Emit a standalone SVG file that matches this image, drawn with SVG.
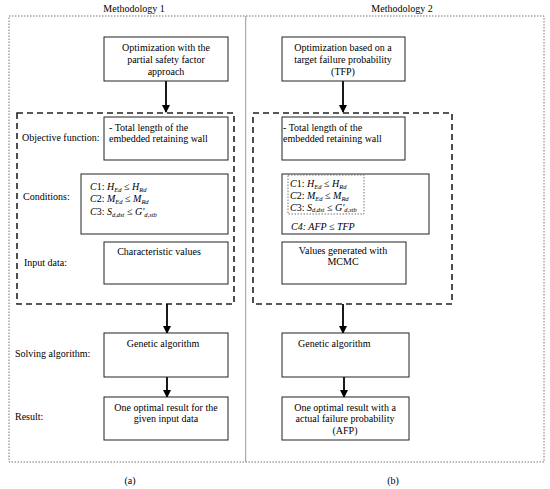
<svg xmlns="http://www.w3.org/2000/svg" width="550" height="489" viewBox="0 0 550 489">
<defs>
<marker id="ah" markerWidth="8" markerHeight="8" refX="7" refY="4" orient="auto" markerUnits="userSpaceOnUse">
<path d="M0,0 L8,4 L0,8 Z" fill="#000"/>
</marker>
<marker id="ahs" markerWidth="4" markerHeight="4" refX="3.5" refY="2" orient="auto" markerUnits="userSpaceOnUse">
<path d="M0,0 L4,2 L0,4 Z" fill="#000"/>
</marker>
<style>
text{font-family:"Liberation Serif","Times New Roman",serif;font-size:10px;fill:#000}
.c{text-anchor:middle}
.i{font-style:italic}
.sub{font-size:6.5px;font-style:italic}
.box{fill:#fff;stroke:#222;stroke-width:1}
.dash{fill:none;stroke:#222;stroke-width:1.6;stroke-dasharray:6,4}
.dot{fill:none;stroke:#777;stroke-width:1;stroke-dasharray:1.5,1.5}
.conn{stroke:#000;stroke-width:1.8;fill:none;marker-end:url(#ah)}
</style>
</defs>
<rect width="550" height="489" fill="#fff"/>

<g id="frame">
<rect class="dot" x="9" y="16" width="535" height="446"/>
<line x1="245.7" y1="16" x2="245.7" y2="462" stroke="#999" stroke-width="1"/>
<text class="c" x="134" y="12">Methodology 1</text>
<text class="c" x="402" y="12">Methodology 2</text>
<text class="c" x="130" y="484">(a)</text>
<text class="c" x="393" y="484">(b)</text>
</g>

<g id="labels">
<text x="22" y="141">Objective function:</text>
<text x="23" y="200">Conditions:</text>
<text x="24" y="266">Input data:</text>
<text x="15" y="357">Solving algorithm:</text>
<text x="15" y="420">Result:</text>
</g>

<g id="dashed-left"><rect class="dash" x="17" y="113" width="217" height="191"/></g>
<g id="dashed-right"><rect class="dash" x="253" y="113" width="199" height="191"/></g>

<g id="connectors">
<line class="conn" x1="166" y1="81" x2="166" y2="112"/>
<line class="conn" x1="167" y1="304" x2="167" y2="333"/>
<line class="conn" x1="167" y1="377" x2="167" y2="397"/>
<line class="conn" x1="343" y1="81" x2="343" y2="112"/>
<line class="conn" x1="343" y1="304" x2="343" y2="333"/>
<line class="conn" x1="344" y1="377" x2="344" y2="397"/>
<line x1="326" y1="214" x2="326" y2="222" stroke="#000" stroke-width="0.8" marker-end="url(#ahs)"/>
</g>

<g id="n1-start">
<rect class="box" x="104" y="37" width="124" height="44"/>
<text class="c" x="166" y="51">Optimization with the</text>
<text class="c" x="166" y="63">partial safety factor</text>
<text class="c" x="166" y="75">approach</text>
</g>
<g id="n1-objective">
<rect class="box" x="104" y="117" width="124" height="43"/>
<text x="109" y="131">- Total length of the</text>
<text x="109" y="142">embedded retaining wall</text>
</g>
<g id="n1-conditions">
<rect class="box" x="81" y="174" width="147" height="60"/>
<text x="90" y="190"><tspan class="i">C</tspan>1: <tspan class="i">H</tspan><tspan class="sub" dy="1.5">Ed</tspan><tspan dy="-1.5"> ≤ </tspan><tspan class="i">H</tspan><tspan class="sub" dy="1.5">Rd</tspan></text>
<text x="90" y="202"><tspan class="i">C</tspan>2: <tspan class="i">M</tspan><tspan class="sub" dy="1.5">Ed</tspan><tspan dy="-1.5"> ≤ </tspan><tspan class="i">M</tspan><tspan class="sub" dy="1.5">Rd</tspan></text>
<text x="90" y="215"><tspan class="i">C</tspan>3: <tspan class="i">S</tspan><tspan class="sub" dy="1.5">d,dst</tspan><tspan dy="-1.5"> ≤ </tspan><tspan class="i">G'</tspan><tspan class="sub" dy="1.5">d,stb</tspan></text>
</g>
<g id="n1-input">
<rect class="box" x="104" y="242" width="124" height="42"/>
<text class="c" x="159" y="255">Characteristic values</text>
</g>
<g id="n1-ga">
<rect class="box" x="104" y="333" width="124" height="44"/>
<text class="c" x="163" y="347">Genetic algorithm</text>
</g>
<g id="n1-result">
<rect class="box" x="104" y="397" width="124" height="43"/>
<text class="c" x="166" y="411">One optimal result for the</text>
<text class="c" x="166" y="422">given input data</text>
</g>

<g id="n2-start">
<rect class="box" x="282" y="37" width="123" height="44"/>
<text class="c" x="343" y="51">Optimization based on a</text>
<text class="c" x="343" y="63">target failure probability</text>
<text class="c" x="343" y="75">(TFP)</text>
</g>
<g id="n2-objective">
<rect class="box" x="282" y="117" width="123" height="43"/>
<text x="283" y="131">- Total length of the</text>
<text x="283" y="142">embedded retaining wall</text>
</g>
<g id="n2-conditions">
<rect class="box" x="282" y="174" width="147" height="60"/>
<rect class="dot" x="288" y="175" width="76" height="39"/>
<text x="290" y="187"><tspan class="i">C</tspan>1: <tspan class="i">H</tspan><tspan class="sub" dy="1.5">Ed</tspan><tspan dy="-1.5"> ≤ </tspan><tspan class="i">H</tspan><tspan class="sub" dy="1.5">Rd</tspan></text>
<text x="290" y="199"><tspan class="i">C</tspan>2: <tspan class="i">M</tspan><tspan class="sub" dy="1.5">Ed</tspan><tspan dy="-1.5"> ≤ </tspan><tspan class="i">M</tspan><tspan class="sub" dy="1.5">Rd</tspan></text>
<text x="290" y="210.5"><tspan class="i">C</tspan>3: <tspan class="i">S</tspan><tspan class="sub" dy="1.5">d,dst</tspan><tspan dy="-1.5"> ≤ </tspan><tspan class="i">G'</tspan><tspan class="sub" dy="1.5">d,stb</tspan></text>
<text class="i" x="291" y="230">C4: AFP ≤ TFP</text>
</g>
<g id="n2-input">
<rect class="box" x="282" y="242" width="124" height="42"/>
<text class="c" x="343" y="254">Values generated with</text>
<text class="c" x="343" y="265">MCMC</text>
</g>
<g id="n2-ga">
<rect class="box" x="282" y="333" width="127" height="44"/>
<text x="298" y="347">Genetic algorithm</text>
</g>
<g id="n2-result">
<rect class="box" x="282" y="397" width="127" height="43"/>
<text class="c" x="345" y="411">One optimal result with a</text>
<text class="c" x="345" y="422">actual failure probability</text>
<text class="c" x="345" y="434">(AFP)</text>
</g>
</svg>
